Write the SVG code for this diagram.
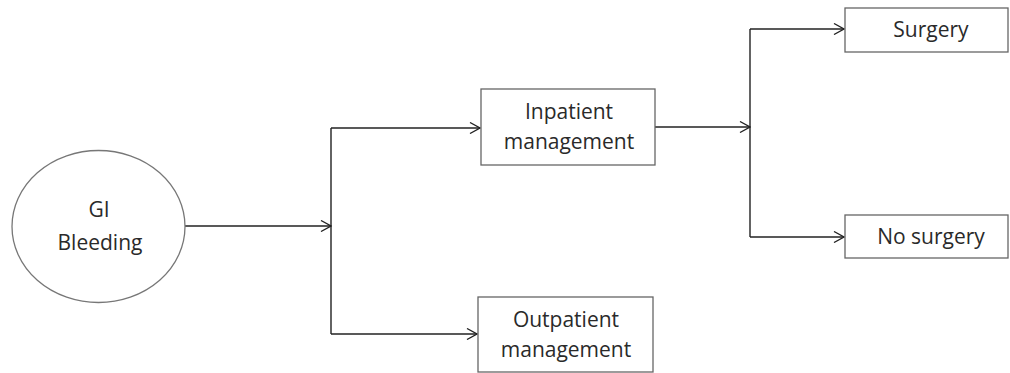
<svg xmlns="http://www.w3.org/2000/svg" width="1010" height="373" viewBox="0 0 1010 373">
<style>
.box{fill:#fff;stroke:#666;stroke-width:1.3}
.t{font-family:"Open Sans","Liberation Sans",sans-serif;font-size:21px;fill:#2a2a2a;text-anchor:middle}
.c{fill:none;stroke:#222;stroke-width:1.4}
</style>
<defs>
<marker id="a" markerWidth="12" markerHeight="12" refX="11" refY="6" orient="auto" markerUnits="userSpaceOnUse">
<path d="M1,0.5 L11,6 L1,11.5" fill="none" stroke="#222" stroke-width="1.3"/>
</marker>
</defs>
<rect width="1010" height="373" fill="#fff"/>
<g id="connectors">
<path class="c" d="M185,226 H331" marker-end="url(#a)"/>
<path class="c" d="M331,128 V334"/>
<path class="c" d="M331,128 H480" marker-end="url(#a)"/>
<path class="c" d="M331,334 H477" marker-end="url(#a)"/>
<path class="c" d="M655,127 H750" marker-end="url(#a)"/>
<path class="c" d="M750,29 V237"/>
<path class="c" d="M750,29 H844" marker-end="url(#a)"/>
<path class="c" d="M750,237 H844" marker-end="url(#a)"/>
</g>
<g id="gi">
<ellipse cx="98.5" cy="226.5" rx="86.5" ry="76" fill="#fff" stroke="#777" stroke-width="1.3"/>
<text class="t" x="99" y="217">GI</text>
<text class="t" x="100" y="250">Bleeding</text>
</g>
<g id="inpatient">
<rect class="box" x="481" y="89" width="174" height="76"/>
<text class="t" x="569" y="119">Inpatient</text>
<text class="t" x="569" y="149">management</text>
</g>
<g id="outpatient">
<rect class="box" x="478" y="297" width="175" height="75"/>
<text class="t" x="566" y="327">Outpatient</text>
<text class="t" x="566" y="357">management</text>
</g>
<g id="surgery">
<rect class="box" x="845" y="8" width="163" height="44"/>
<text class="t" x="931" y="37">Surgery</text>
</g>
<g id="nosurgery">
<rect class="box" x="845" y="215" width="163" height="43"/>
<text class="t" x="931" y="244">No surgery</text>
</g>
</svg>
